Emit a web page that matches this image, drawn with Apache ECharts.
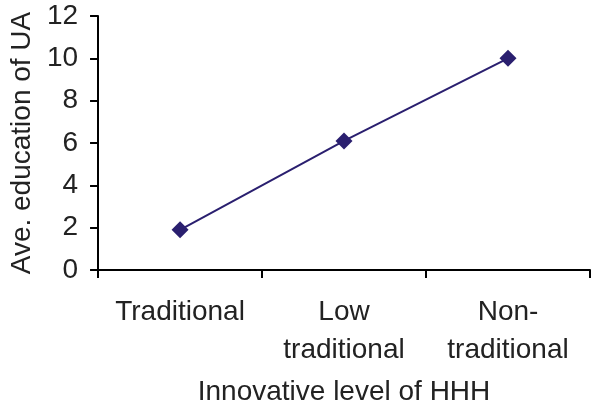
<!DOCTYPE html>
<html>
<head>
<meta charset="utf-8">
<script src="https://cdn.jsdelivr.net/npm/echarts@6/dist/echarts.min.js"></script>
<style>
html,body{margin:0;padding:0;background:#fff;}
#c{width:592px;height:411px;}
</style>
</head>
<body>
<div id="c"></div>
<script>
var categories = ['Traditional', 'Low\ntraditional', 'Non-\ntraditional'];
var values = [1.9, 6.1, 10.0];
var yTicks = {min: 0, max: 12, interval: 2};
var xAxisName = 'Innovative level of HHH';
var yAxisName = 'Ave. education of UA';

var font = 'Liberation Sans, Arial, Helvetica, sans-serif';
var chart = echarts.init(document.getElementById('c'));
chart.setOption({
  animation: false,
  backgroundColor: '#fff',
  grid: {left: 94, right: 2, top: 16, bottom: 137, containLabel: false},
  xAxis: {
    type: 'category',
    data: categories,
    boundaryGap: true,
    name: xAxisName,
    nameLocation: 'middle',
    nameGap: 108,
    nameTextStyle: {fontFamily: font, fontSize: 28, color: '#222'},
    axisLine: {lineStyle: {color: '#000', width: 2}},
    axisTick: {show: true, length: 8, lineStyle: {color: '#000', width: 2}, alignWithLabel: false},
    axisLabel: {fontFamily: font, fontSize: 28, color: '#222', lineHeight: 38, margin: 23, interval: 0},
    splitLine: {show: false}
  },
  yAxis: {
    type: 'value',
    min: yTicks.min, max: yTicks.max, interval: yTicks.interval,
    name: yAxisName,
    nameLocation: 'middle',
    nameGap: 57,
    nameTextStyle: {fontFamily: font, fontSize: 28, color: '#222'},
    axisLine: {show: true, lineStyle: {color: '#000', width: 2}},
    axisTick: {show: true, length: 8, lineStyle: {color: '#000', width: 2}},
    axisLabel: {fontFamily: font, fontSize: 28, color: '#222', margin: 20},
    splitLine: {show: false}
  },
  series: [{
    type: 'line',
    data: values,
    symbol: 'diamond',
    symbolSize: 17,
    lineStyle: {color: '#2A1F6F', width: 2},
    itemStyle: {color: '#2A1F6F'}
  }]
});
</script>
</body>
</html>
